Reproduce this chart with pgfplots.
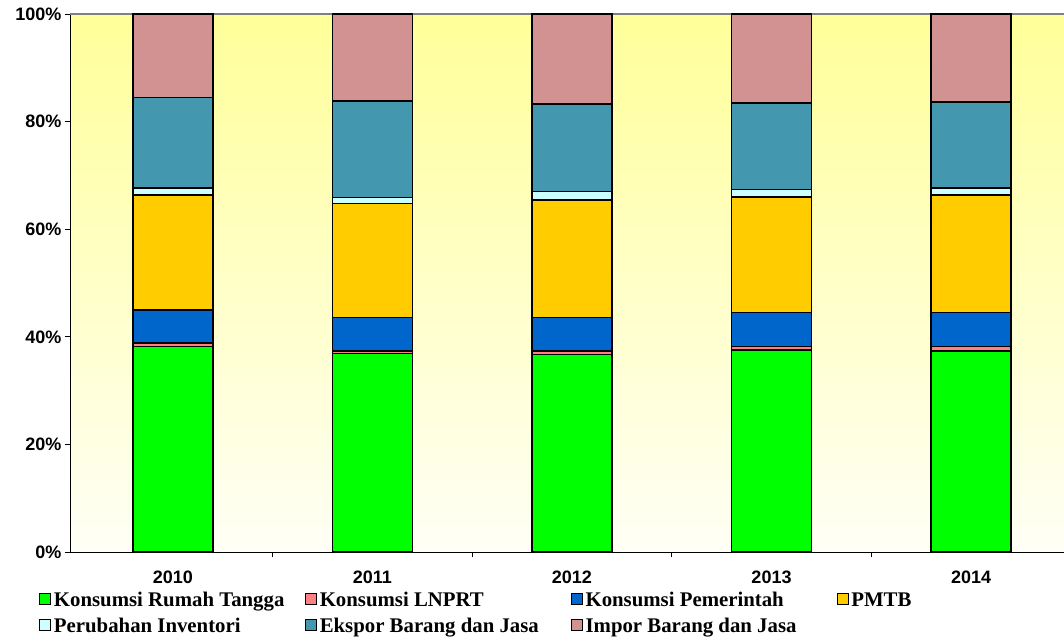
\documentclass[border=0pt]{standalone}
\usepackage{pgfplots}
\pgfplotsset{compat=1.18}
\usepackage{fontspec}
\setmainfont{Liberation Sans}
\newfontfamily\legfont{Liberation Serif}

\definecolor{cRT}{RGB}{0,255,0}
\definecolor{cLN}{RGB}{255,128,128}
\definecolor{cPem}{RGB}{0,102,204}
\definecolor{cPMTB}{RGB}{255,204,0}
\definecolor{cInv}{RGB}{204,255,255}
\definecolor{cEks}{RGB}{67,151,175}
\definecolor{cImp}{RGB}{211,146,146}
\definecolor{bgtop}{RGB}{255,255,153}
\definecolor{bgbot}{RGB}{255,255,246}

\begin{document}
\begin{tikzpicture}
\begin{axis}[
    name=ax,
    scale only axis,
    width=994pt, height=538pt,
    ybar stacked, bar width=80pt,
    xmin=-0.016, xmax=4.966, ymin=0, ymax=100,
    axis x line*=bottom, axis y line*=left,
    axis line style={black, line width=0.8pt},
    axis background/.style={top color=bgtop, bottom color=bgbot, draw=none},
    tick align=outside,
    major tick length=5pt,
    tick style={black, line width=0.8pt},
    xtick={1,2,3,4}, xticklabels={},
    extra x ticks={0.5,1.5,2.5,3.5,4.5},
    extra x tick labels={2010,2011,2012,2013,2014},
    extra x tick style={major tick length=0pt},
    ytick={0,20,40,60,80,100},
    yticklabels={0\%,20\%,40\%,60\%,80\%,100\%},
    /pgf/number format/assume math mode=true,
    tick label style={font=\fontsize{18}{20}\selectfont\bfseries},
    xticklabel style={yshift=-15pt},
    legend columns=4,
    legend style={draw=none, fill=none,
        at={(axis description cs:0,0)}, anchor=north west,
        xshift=-31pt, yshift=-39pt,
        font=\legfont\bfseries\fontsize{20.8}{23}\selectfont,
        inner sep=0pt, row sep=8pt,
        nodes={inner sep=1pt}},
    legend cell align=left,
    legend image code/.code={\draw[#1,draw=black,line width=0.8pt] (0pt,-4pt) rectangle (11pt,7pt);},
]
\addplot[fill=cRT, draw=black, line width=1.6pt] coordinates {(0.5,38.2) (1.5,36.9) (2.5,36.7) (3.5,37.5) (4.5,37.4)};
\addlegendentry{\makebox[252pt][l]{\hspace{2pt}Konsumsi Rumah Tangga}}
\addplot[fill=cLN, draw=black, line width=1.6pt] coordinates {(0.5,0.6) (1.5,0.5) (2.5,0.7) (3.5,0.7) (4.5,0.8)};
\addlegendentry{\makebox[252pt][l]{\hspace{2pt}Konsumsi LNPRT}}
\addplot[fill=cPem, draw=black, line width=1.6pt] coordinates {(0.5,6.2) (1.5,6.2) (2.5,6.2) (3.5,6.3) (4.5,6.3)};
\addlegendentry{\makebox[252pt][l]{\hspace{2pt}Konsumsi Pemerintah}}
\addplot[fill=cPMTB, draw=black, line width=1.6pt] coordinates {(0.5,21.4) (1.5,21.2) (2.5,21.8) (3.5,21.5) (4.5,21.9)};
\addlegendentry{\hspace{2pt}PMTB}
\addplot[fill=cInv, draw=black, line width=1.6pt] coordinates {(0.5,1.3) (1.5,1.1) (2.5,1.6) (3.5,1.4) (4.5,1.3)};
\addlegendentry{\makebox[252pt][l]{\hspace{2pt}Perubahan Inventori}}
\addplot[fill=cEks, draw=black, line width=1.6pt] coordinates {(0.5,16.8) (1.5,17.9) (2.5,16.3) (3.5,16.1) (4.5,15.9)};
\addlegendentry{\makebox[252pt][l]{\hspace{2pt}Ekspor Barang dan Jasa}}
\addplot[fill=cImp, draw=black, line width=1.6pt] coordinates {(0.5,15.5) (1.5,16.2) (2.5,16.7) (3.5,16.5) (4.5,16.4)};
\addlegendentry{\makebox[252pt][l]{\hspace{2pt}Impor Barang dan Jasa}}
\draw[gray, line width=1.2pt] (rel axis cs:0,1) -- (rel axis cs:1,1);
\end{axis}
\pgfresetboundingbox
\path ([xshift=-70pt,yshift=-86pt]ax.south west) rectangle ([yshift=14pt]ax.north east);
\end{tikzpicture}
\end{document}
